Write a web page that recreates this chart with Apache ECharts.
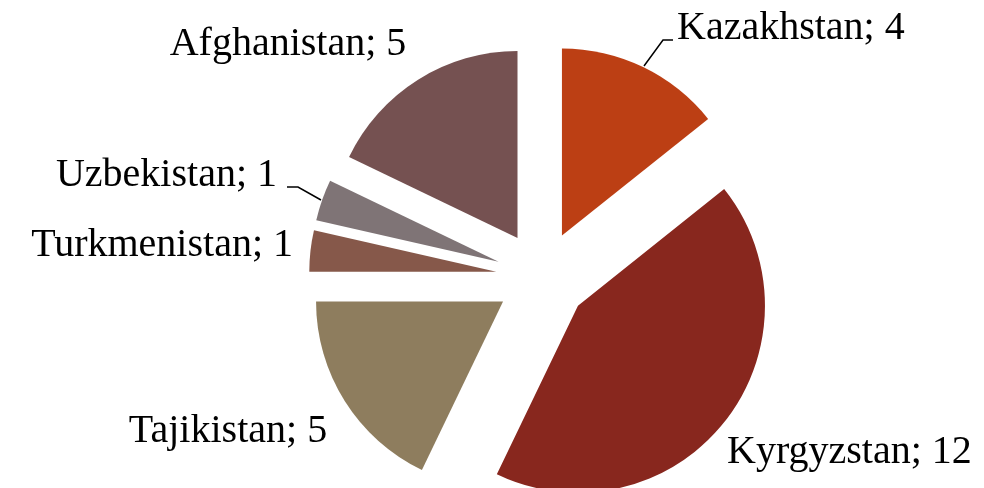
<!DOCTYPE html>
<html>
<head>
<meta charset="utf-8">
<script src="https://cdn.jsdelivr.net/npm/echarts@6/dist/echarts.min.js"></script>
<style>
    html, body { margin: 0; padding: 0; background: #fff; }
    #main { width: 984px; height: 488px; }
</style>
</head>
<body>
<div id="main"></div>
<script>
var countries = ["Kazakhstan", "Kyrgyzstan", "Tajikistan", "Turkmenistan", "Uzbekistan", "Afghanistan"];
var counts = [4, 12, 5, 1, 1, 5];
var colors = ["#BC3F14", "#88271E", "#8E7D5E", "#86584A", "#7F7476", "#755151"];

// where each label sits (anchor x with its alignment, vertical middle) and its leader line, if any
var labelSpots = [
    { x: 677, y: 28, align: "left", line: [[644, 66], [663, 40], [673, 40]] },
    { x: 727, y: 452, align: "left" },
    { x: 228, y: 431, align: "center" },
    { x: 293, y: 245, align: "right" },
    { x: 277, y: 175, align: "right", line: [[321, 200], [298, 187], [287, 187]] },
    { x: 288, y: 44, align: "center" }
];

function initializeChart() {
    var chart = echarts.init(document.getElementById("main"));

    var data = countries.map(function (name, i) {
        return {
            name: name,
            value: counts[i],
            selected: true,
            itemStyle: { color: colors[i] },
            select: { itemStyle: { color: colors[i] } }
        };
    });

    var graphics = [];
    countries.forEach(function (name, i) {
        var spot = labelSpots[i];
        graphics.push({
            type: "text",
            x: spot.x,
            y: spot.y,
            silent: true,
            style: {
                text: name + "; " + counts[i],
                fill: "#000",
                font: "40px 'Liberation Serif'",
                textAlign: spot.align,
                textVerticalAlign: "middle"
            }
        });
        if (spot.line) {
            graphics.push({
                type: "polyline",
                silent: true,
                shape: { points: spot.line },
                style: { stroke: "#000", lineWidth: 1.5, fill: null }
            });
        }
    });

    var options = {
        animation: false,
        graphic: graphics,
        series: [{
            type: "pie",
            center: [542, 277],
            radius: 187,
            startAngle: 90,
            clockwise: true,
            selectedMode: "multiple",
            selectedOffset: 46,
            emphasis: { disabled: true },
            label: { show: false },
            labelLine: { show: false },
            data: data
        }]
    };

    chart.setOption(options);
}

initializeChart();
</script>
</body>
</html>
